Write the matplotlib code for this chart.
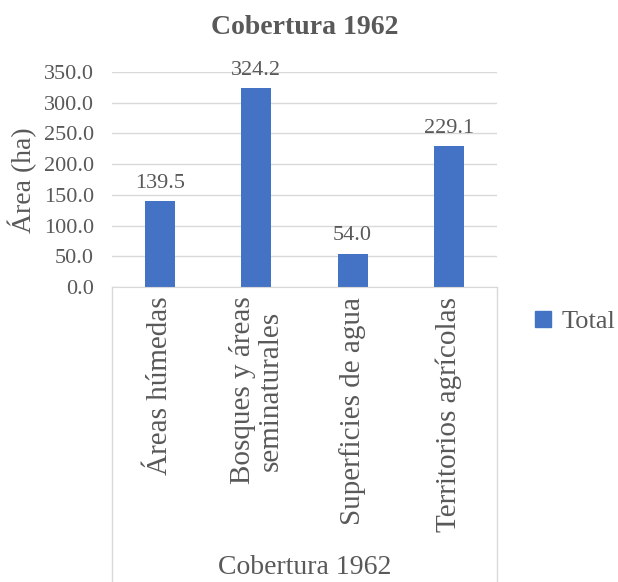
import matplotlib

matplotlib.use("Agg")
import matplotlib.pyplot as plt  # noqa: E402
from matplotlib.lines import Line2D  # noqa: E402

categories = [
    "Áreas húmedas",
    "Bosques y áreas\nseminaturales",
    "Superficies de agua",
    "Territorios agrícolas",
]
area_ha = [139.5, 324.2, 54.0, 229.1]
y_ticks = [0, 50, 100, 150, 200, 250, 300, 350]

BAR = "#4472C4"
TEXT = "#595959"
GRID = "#D9D9D9"

plt.rcParams["font.family"] = ["Liberation Serif", "DejaVu Serif"]

fig = plt.figure(figsize=(6.18, 5.82), dpi=100)
W, H = 618, 582
ax = fig.add_axes([112 / W, 1 - 287 / H, 385 / W, 215 / H])

x = list(range(len(categories)))
bars = ax.bar(x, area_ha, width=0.31, color=BAR, zorder=3)
for rect, val in zip(bars, area_ha):
    ax.annotate(
        f"{val:.1f}",
        (rect.get_x() + rect.get_width() / 2, rect.get_height()),
        xytext=(0, 6),
        textcoords="offset points",
        ha="center",
        va="bottom",
        fontsize=16,
        color=TEXT,
    )

ax.set_xlim(-0.5, len(categories) - 0.5)
ax.set_ylim(0, 350)
ax.set_yticks(y_ticks)
ax.set_yticklabels([f"{v:.1f}" for v in y_ticks], fontsize=16, color=TEXT)
ax.tick_params(axis="y", length=0, pad=13)
ax.set_xticks([])
ax.grid(axis="y", color=GRID, linewidth=1, zorder=0)
for side in ("left", "right", "top"):
    ax.spines[side].set_visible(False)
ax.spines["bottom"].set_color(GRID)
ax.spines["bottom"].set_zorder(4)

# category labels, rotated, hanging below the axis
for xi, label in zip(x, categories):
    ax.annotate(
        label,
        (xi, 0),
        xytext=(0, -7),
        textcoords="offset points",
        rotation=90,
        ha="center",
        va="top",
        multialignment="center",
        fontsize=21,
        color=TEXT,
        linespacing=1.1,
    )

# pivot-style category box
for xa in (0, 1):
    ax.add_artist(
        Line2D([xa, xa], [0, -300 / 215], transform=ax.transAxes,
               color=GRID, linewidth=1, clip_on=False)
    )
ax.text(0.5, -280 / 215, "Cobertura 1962", transform=ax.transAxes,
        ha="center", va="center", fontsize=20, color=TEXT)

fig.text(22 / W, 1 - 180 / H, "Área (ha)", rotation=90, ha="center",
         va="center", fontsize=20, color=TEXT)
fig.text(305 / W, 1 - 27 / H, "Cobertura 1962", ha="center", va="center",
         fontsize=20, fontweight="bold", color=TEXT)

handle = plt.Rectangle((0, 0), 1, 1, color=BAR)
fig.legend([handle], ["Total"], loc="center left",
           bbox_to_anchor=(535 / W, 1 - 322 / H), frameon=False,
           borderpad=0, borderaxespad=0,
           fontsize=19, labelcolor=TEXT, handlelength=0.6, handleheight=0.6,
           handletextpad=0.4)

fig.savefig("out.png", dpi=100)
plt.close(fig)
